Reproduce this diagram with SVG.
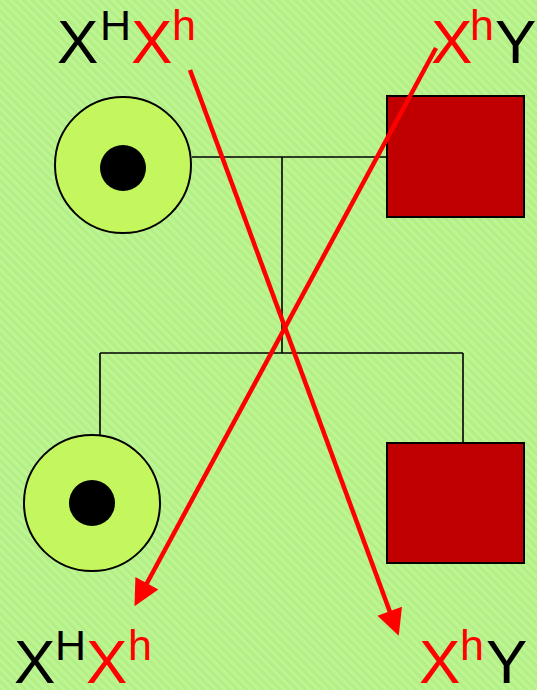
<svg xmlns="http://www.w3.org/2000/svg" width="537" height="690" viewBox="0 0 537 690">
<defs>
<pattern id="bg" width="6" height="6" patternUnits="userSpaceOnUse" patternTransform="rotate(-45)">
<rect width="6" height="6" fill="#b3ef86"/>
<rect width="3" height="6" fill="#bdf592"/>
</pattern>
<marker id="ah" viewBox="0 0 10 10" refX="0.3" refY="5" markerWidth="7.3" markerHeight="5.8" orient="auto" markerUnits="strokeWidth">
<path d="M0,0 L10,5 L0,10 Z" fill="#ff0000"/>
</marker>
</defs>
<style>
.f{fill:#c4f75e;stroke:#000;stroke-width:2}
.d{fill:#000}
.m{fill:#c00000;stroke:#000;stroke-width:2}
.ln{stroke:#000;stroke-width:1.6;fill:none}
.ar{stroke:#ff0000;stroke-width:4.5;fill:none;marker-end:url(#ah)}
.t{font-family:"Liberation Sans",Arial,sans-serif}
.big{font-size:62px}
.sm{font-size:43px}
.k{fill:#000}
.r{fill:#ff0000}
</style>
<rect width="537" height="690" fill="url(#bg)"/>
<g id="connectors">
<line class="ln" x1="192" y1="157" x2="387" y2="157"/>
<line class="ln" x1="282" y1="157" x2="282" y2="353"/>
<line class="ln" x1="100" y1="353" x2="463" y2="353"/>
<line class="ln" x1="100" y1="353" x2="100" y2="436"/>
<line class="ln" x1="463" y1="353" x2="463" y2="443"/>
</g>
<g id="mother">
<circle class="f" cx="123" cy="165" r="68"/>
<circle class="d" cx="123" cy="168" r="23"/>
</g>
<g id="father">
<rect class="m" x="387" y="96" width="137" height="121"/>
</g>
<g id="daughter">
<circle class="f" cx="92" cy="503" r="68"/>
<circle class="d" cx="92" cy="503" r="23"/>
</g>
<g id="son">
<rect class="m" x="387" y="443" width="137" height="120"/>
</g>
<g id="arrows">
<line class="ar" x1="190" y1="70" x2="390" y2="612"/>
<line class="ar" x1="436" y1="48" x2="146.5" y2="584"/>
</g>
<g id="label-mother" class="t">
<text x="57" y="63" class="big k">X</text>
<text x="100" y="40" class="sm k">H</text>
<text x="131" y="63" class="big r">X</text>
<text x="172" y="40" class="sm r">h</text>
</g>
<g id="label-father" class="t">
<text x="431" y="63" class="big r">X</text>
<text x="470" y="40" class="sm r">h</text>
<text x="495" y="63" class="big k">Y</text>
</g>
<g id="label-daughter" class="t">
<text x="14" y="683" class="big k">X</text>
<text x="55" y="660" class="sm k">H</text>
<text x="86" y="683" class="big r">X</text>
<text x="128" y="660" class="sm r">h</text>
</g>
<g id="label-son" class="t">
<text x="419" y="683" class="big r">X</text>
<text x="460" y="660" class="sm r">h</text>
<text x="486" y="683" class="big k">Y</text>
</g>
</svg>
